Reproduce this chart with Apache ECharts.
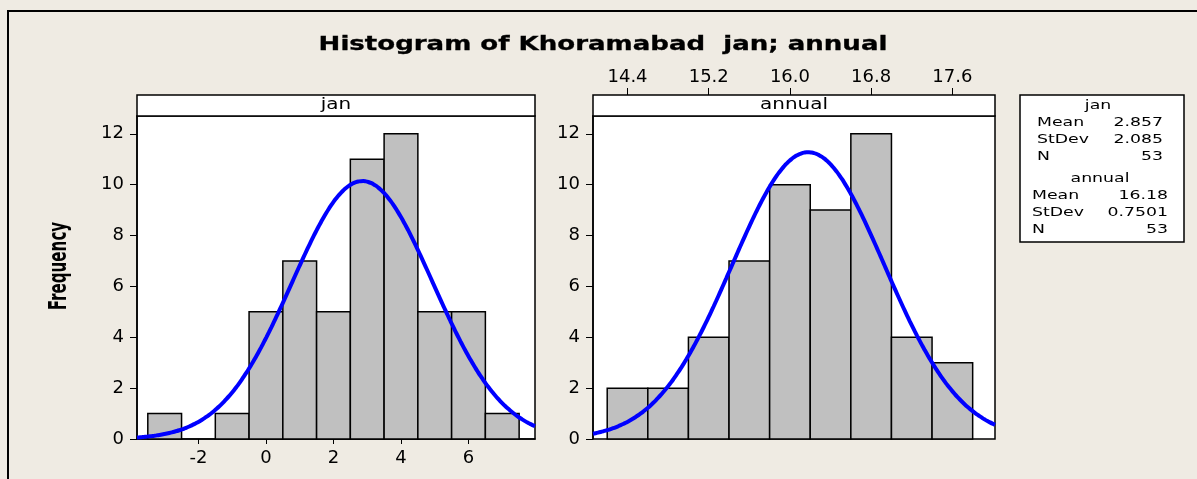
<!DOCTYPE html>
<html>
<head>
<meta charset="utf-8">
<script src="https://cdn.jsdelivr.net/npm/echarts@6/dist/echarts.min.js"></script>
<style>
  html, body { margin: 0; padding: 0; background: #efebe3; }
  #chart { width: 1197px; height: 479px; }
</style>
</head>
<body>
<div id="chart"></div>
<script>
// histogram bins (bin centers) and counts
const janCenters = [-3, -2, -1, 0, 1, 2, 3, 4, 5, 6, 7]
const janCounts = [1, 0, 1, 5, 7, 5, 11, 12, 5, 5, 1]
const janBinWidth = 1
const annualCenters = [14.4, 14.8, 15.2, 15.6, 16.0, 16.4, 16.8, 17.2, 17.6]
const annualCounts = [2, 2, 4, 7, 10, 9, 12, 4, 3]
const annualBinWidth = 0.4

// fitted normal stats (from the legend box)
const janStats = [2.857, 2.085, 53]      // mean, stdev, N
const annualStats = [16.18, 0.7501, 53]

// tick labels
const freqTicks = [0, 2, 4, 6, 8, 10, 12]
const janTicks = [-2, 0, 2, 4, 6]
const annualTicks = [14.4, 15.2, 16.0, 16.8, 17.6]

const janRange = [-3.82, 7.97]
const annualRange = [14.06, 18.02]

const FONT = 'DejaVu Sans, Verdana, sans-serif'
const STRETCH = 1.33 // the source image text is wide

// normal curve scaled to counts: N * binWidth * pdf(x)
function fitCurve(stats, binWidth, range) {
  const [mu, sd, n] = stats
  const pts = []
  const steps = 160
  for (let i = 0; i <= steps; i++) {
    const x = range[0] + (range[1] - range[0]) * i / steps
    const z = (x - mu) / sd
    pts.push([x, n * binWidth * Math.exp(-0.5 * z * z) / (sd * Math.sqrt(2 * Math.PI))])
  }
  return pts
}

function histSeries(idx, centers, counts, binWidth) {
  return {
    type: 'custom',
    xAxisIndex: idx,
    yAxisIndex: idx,
    data: centers.map((c, i) => [c, counts[i]]),
    renderItem(params, api) {
      const c = api.value(0)
      const v = api.value(1)
      if (!v) return null
      const p0 = api.coord([c - binWidth / 2, 0])
      const p1 = api.coord([c + binWidth / 2, v])
      return {
        type: 'rect',
        shape: { x: p0[0], y: p1[1], width: p1[0] - p0[0], height: p0[1] - p1[1] },
        style: { fill: '#c0c0c0', stroke: '#000', lineWidth: 1.5 }
      }
    },
    z: 2
  }
}

function curveSeries(idx, pts) {
  return {
    type: 'line',
    xAxisIndex: idx,
    yAxisIndex: idx,
    data: pts,
    showSymbol: false,
    smooth: true,
    lineStyle: { color: '#0000ff', width: 4 },
    z: 3
  }
}

function yAxisFor(idx) {
  return {
    type: 'value',
    gridIndex: idx,
    min: 0,
    max: 12.7,
    splitLine: { show: false },
    axisLine: { show: true, onZero: false, lineStyle: { color: '#000', width: 1.5 } },
    axisTick: { show: true, length: 7, lineStyle: { color: '#000' }, customValues: freqTicks },
    axisLabel: { color: '#000', fontFamily: FONT, fontSize: 18, margin: 13, customValues: freqTicks }
  }
}

function label(t, x, y, size, align, extra) {
  return Object.assign({
    type: 'text', x: x, y: y, z: 101, scaleX: STRETCH,
    style: { text: t, font: size + 'px ' + FONT, fill: '#000', align: align || 'left', verticalAlign: 'middle' }
  }, extra || {})
}

// legend box text rows
const legendRows = [
  label('jan', 1098, 106, 13, 'center'),
  label('Mean', 1037, 123, 13), label(String(janStats[0]), 1163, 123, 13, 'right'),
  label('StDev', 1037, 140, 13), label(String(janStats[1]), 1163, 140, 13, 'right'),
  label('N', 1037, 157, 13), label(String(janStats[2]), 1163, 157, 13, 'right'),
  label('annual', 1100, 179, 13, 'center'),
  label('Mean', 1032, 196, 13), label(String(annualStats[0]), 1168, 196, 13, 'right'),
  label('StDev', 1032, 213, 13), label(String(annualStats[1]), 1168, 213, 13, 'right'),
  label('N', 1032, 230, 13), label(String(annualStats[2]), 1168, 230, 13, 'right')
]

const chart = echarts.init(document.getElementById('chart'))

chart.setOption({
  backgroundColor: '#efebe3',
  animation: false,
  grid: [
    { left: 137, right: 662, top: 116, bottom: 40, show: true, backgroundColor: '#fff', borderColor: '#000', borderWidth: 1.5 },
    { left: 593, right: 202, top: 116, bottom: 40, show: true, backgroundColor: '#fff', borderColor: '#000', borderWidth: 1.5 }
  ],
  xAxis: [
    {
      type: 'value', gridIndex: 0, min: janRange[0], max: janRange[1],
      splitLine: { show: false },
      axisLine: { show: true, onZero: false, lineStyle: { color: '#000', width: 1.5 } },
      axisTick: { show: true, length: 5, lineStyle: { color: '#000' }, customValues: janTicks },
      axisLabel: { color: '#000', fontFamily: FONT, fontSize: 18, margin: 10, customValues: janTicks }
    },
    {
      type: 'value', gridIndex: 1, min: annualRange[0], max: annualRange[1],
      position: 'top', offset: 21,
      splitLine: { show: false },
      axisLine: { show: false, onZero: false },
      axisTick: { show: true, length: 7, lineStyle: { color: '#000' }, customValues: annualTicks },
      axisLabel: {
        color: '#000', fontFamily: FONT, fontSize: 18, margin: 9, customValues: annualTicks,
        formatter: v => v.toFixed(1)
      }
    }
  ],
  yAxis: [yAxisFor(0), yAxisFor(1)],
  series: [
    histSeries(0, janCenters, janCounts, janBinWidth),
    curveSeries(0, fitCurve(janStats, janBinWidth, janRange)),
    histSeries(1, annualCenters, annualCounts, annualBinWidth),
    curveSeries(1, fitCurve(annualStats, annualBinWidth, annualRange))
  ],
  graphic: [
    // outer frame
    { type: 'rect', shape: { x: 8, y: 11, width: 1400, height: 700 }, style: { fill: null, stroke: '#000', lineWidth: 2 }, z: 1, silent: true },
    // title
    {
      type: 'text', x: 603, y: 45, z: 101, scaleX: 1.37,
      style: {
        text: 'Histogram of Khoramabad  jan; annual', font: 'bold 19px ' + FONT, fill: '#000',
        stroke: '#000', lineWidth: 0.3, align: 'center', verticalAlign: 'middle'
      }
    },
    // panel strips
    { type: 'rect', shape: { x: 137, y: 95, width: 398, height: 21 }, style: { fill: '#fff', stroke: '#000', lineWidth: 1.5 }, z: 100 },
    label('jan', 336, 105, 15, 'center'),
    { type: 'rect', shape: { x: 593, y: 95, width: 402, height: 21 }, style: { fill: '#fff', stroke: '#000', lineWidth: 1.5 }, z: 100 },
    label('annual', 794, 105, 15, 'center'),
    // y axis name
    {
      type: 'text', x: 60, y: 266, rotation: Math.PI / 2, scaleX: 0.7, z: 101,
      style: { text: 'Frequency', font: 'bold 24px "Liberation Sans Narrow", "DejaVu Sans Condensed", sans-serif', fill: '#000', align: 'center', verticalAlign: 'middle' }
    },
    // legend box
    { type: 'rect', shape: { x: 1020, y: 95, width: 164, height: 147 }, style: { fill: '#fff', stroke: '#000', lineWidth: 1.5 }, z: 100 }
  ].concat(legendRows)
})
</script>
</body>
</html>
